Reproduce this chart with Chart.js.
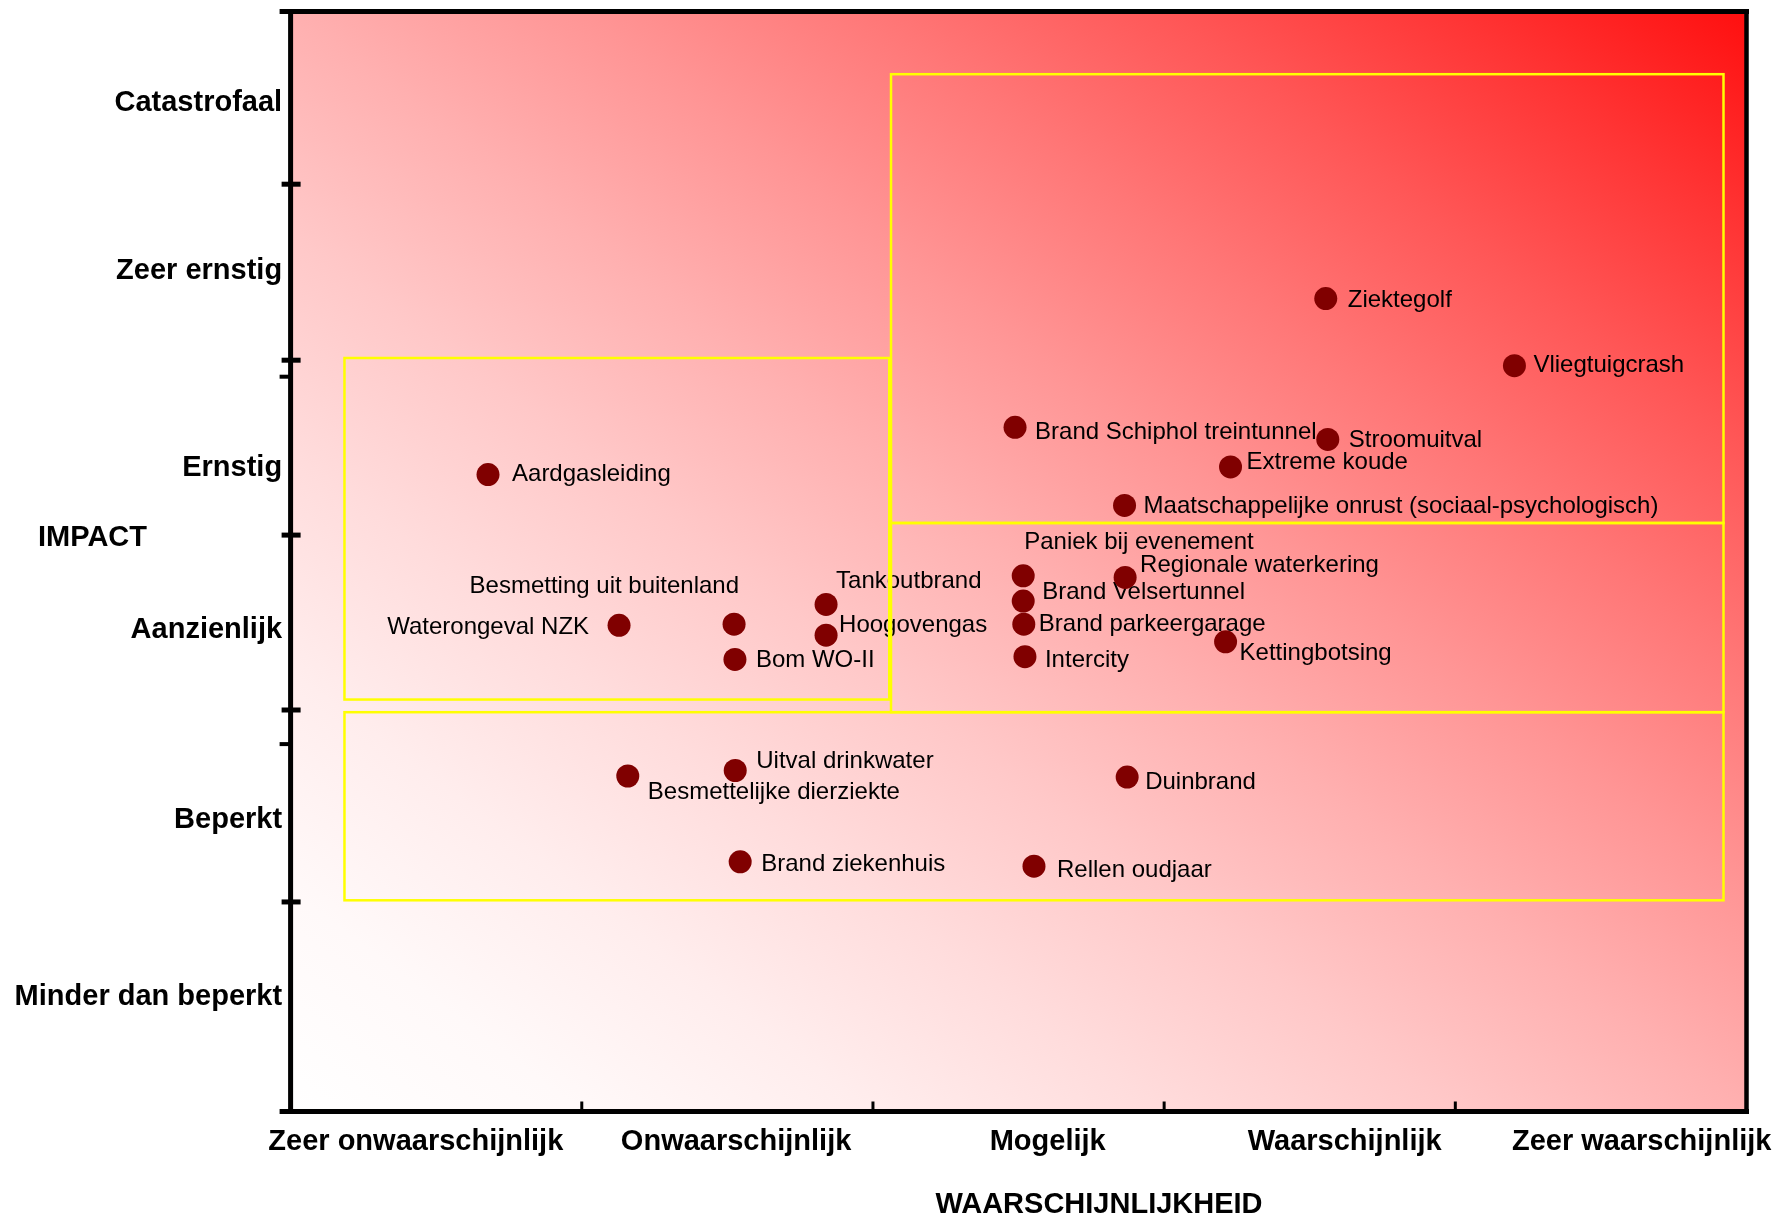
<!DOCTYPE html>
<html>
<head>
<meta charset="utf-8">
<title>Risicodiagram</title>
<script src="https://cdn.jsdelivr.net/npm/chart.js@4.4.1/dist/chart.umd.min.js"></script>
<style>
    body { margin: 0; background: #fff; }
    #wrap { width: 1787px; height: 1219px; position: relative; }
</style>
</head>
<body>
<div id="wrap"><canvas id="chart"></canvas></div>
<script>
// Axis categories
const kansLabels = ['Zeer onwaarschijnlijk', 'Onwaarschijnlijk', 'Mogelijk', 'Waarschijnlijk', 'Zeer waarschijnlijk'];
const kansLabelPos = [0.43, 1.53, 2.60, 3.62, 4.64];
const kansBounds = [1, 2, 3, 4];

const impactLabels = ['Minder dan beperkt', 'Beperkt', 'Aanzienlijk', 'Ernstig', 'Zeer ernstig', 'Catastrofaal'];
const impactLabelPos = [10.4, 26.5, 43.8, 58.5, 76.4, 91.7];
const impactBounds = [19.05, 36.5, 52.4, 68.3, 84.3];
const impactMinor = [33.4, 66.8];

// Scenarios
const scenarios = [
    'Ziektegolf', 'Vliegtuigcrash', 'Brand Schiphol treintunnel', 'Stroomuitval', 'Extreme koude',
    'Maatschappelijke onrust (sociaal-psychologisch)', 'Aardgasleiding', 'Paniek bij evenement',
    'Regionale waterkering', 'Brand Velsertunnel', 'Brand parkeergarage', 'Intercity', 'Kettingbotsing',
    'Tankoutbrand', 'Hoogovengas', 'Besmetting uit buitenland', 'Waterongeval NZK', 'Bom WO-II',
    'Uitval drinkwater', 'Besmettelijke dierziekte', 'Duinbrand', 'Brand ziekenhuis', 'Rellen oudjaar'
];
const kans = [3.555, 4.203, 2.488, 3.562, 3.228, 2.864, 0.678, 2.516, 2.866, 2.516, 2.518, 2.522, 3.211,
    1.839, 1.839, 1.523, 1.128, 1.526, 1.527, 1.158, 2.873, 1.544, 2.553];
const impact = [73.9, 67.8, 62.2, 61.1, 58.6, 55.1, 57.9, 48.7, 48.55, 46.4, 44.3, 41.35, 42.7,
    46.1, 43.3, 44.3, 44.2, 41.1, 31.0, 30.5, 30.4, 22.7, 22.3];

// Yellow zones
const zoneKansFrom = [2.062, 2.062, 0.185, 0.185];
const zoneKansTo = [4.921, 4.921, 2.056, 4.921];
const zoneImpactFrom = [53.5, 36.3, 37.45, 19.2];
const zoneImpactTo = [94.3, 53.5, 68.5, 36.3];

// Label placement next to each point: dx, dy, align
const labelPlace = [
    [22, 2], [19, 0], [20, 5.5], [21, 1], [16, -5],
    [19, 1], [24, 0], [1, -33.5],
    [15, -12], [19, -9], [15, 0], [20, 4], [14, 11.5],
    [10, -23.5], [13, -10], [5, -38, 'right'], [-30, 2.5, 'right'], [21, 1],
    [21, -9], [20, 16], [18, 5], [21, 3], [23, 4]
];

const FONT = '"Liberation Sans", Arial, Helvetica, sans-serif';

const riskPlugin = {
    id: 'risk',
    // gradient background: white bottom-left to red top-right
    beforeDraw(chart) {
        const { ctx, chartArea: a } = chart;
        ctx.save();
        ctx.translate(a.left, a.bottom);
        ctx.scale(a.right - a.left, a.top - a.bottom);
        const g = ctx.createLinearGradient(0, 0, 1, 1);
        for (let i = 0; i <= 10; i++) {
            const s = i / 10;
            const c = Math.round(255 - 240 * Math.pow(s, 1.6));
            g.addColorStop(s, `rgb(255,${c},${c})`);
        }
        ctx.fillStyle = g;
        ctx.fillRect(0, 0, 1, 1);
        ctx.restore();
    },
    // labels first, then the yellow zones, points come on top
    beforeDatasetsDraw(chart) {
        const { ctx } = chart;
        const pts = chart.getDatasetMeta(0).data;
        ctx.save();
        ctx.font = '24px ' + FONT;
        ctx.fillStyle = '#000';
        ctx.textBaseline = 'middle';
        pts.forEach((p, i) => {
            const [dx, dy, align] = labelPlace[i];
            ctx.textAlign = align || 'left';
            ctx.fillText(scenarios[i], p.x + dx, p.y + dy);
        });

        const xs = chart.scales.x, ys = chart.scales.y;
        ctx.strokeStyle = '#ffff00';
        ctx.lineWidth = 2.5;
        zoneKansFrom.forEach((k, i) => {
            const x0 = xs.getPixelForValue(k);
            const x1 = xs.getPixelForValue(zoneKansTo[i]);
            const y0 = ys.getPixelForValue(zoneImpactTo[i]);
            const y1 = ys.getPixelForValue(zoneImpactFrom[i]);
            ctx.strokeRect(x0, y0, x1 - x0, y1 - y0);
        });
        ctx.restore();
    },
    // black frame, tick marks and axis titles
    afterDraw(chart) {
        const { ctx, chartArea: a } = chart;
        const xs = chart.scales.x, ys = chart.scales.y;
        const line = (x0, y0, x1, y1, w) => {
            ctx.lineWidth = w;
            ctx.beginPath();
            ctx.moveTo(x0, y0);
            ctx.lineTo(x1, y1);
            ctx.stroke();
        };
        ctx.save();
        ctx.strokeStyle = '#000';
        line(a.left - 11, a.top, a.right + 2.5, a.top, 5);
        line(a.left - 11, a.bottom, a.right + 2.5, a.bottom, 5);
        line(a.left, a.top - 2.5, a.left, a.bottom + 2.5, 5);
        line(a.right, a.top - 2.5, a.right, a.bottom + 2.5, 4.5);
        impactBounds.forEach(v => {
            const y = ys.getPixelForValue(v);
            line(a.left - 9, y, a.left + 10, y, 5);
        });
        impactMinor.forEach(v => {
            const y = ys.getPixelForValue(v);
            line(a.left - 11, y, a.left, y, 4);
        });
        kansBounds.forEach(v => {
            const x = xs.getPixelForValue(v);
            line(x, a.bottom - 10, x, a.bottom, 3);
        });

        ctx.fillStyle = '#000';
        ctx.font = 'bold 29px ' + FONT;
        ctx.textBaseline = 'middle';
        ctx.textAlign = 'left';
        ctx.fillText('IMPACT', 38, 538);
        ctx.textAlign = 'center';
        ctx.fillText('WAARSCHIJNLIJKHEID', 1099, 1205);
        ctx.restore();
    }
};

const tickFont = { family: FONT, size: 29, weight: 'bold' };

new Chart(document.getElementById('chart'), {
    type: 'scatter',
    data: {
        datasets: [{
            data: scenarios.map((s, i) => ({ x: kans[i], y: impact[i] })),
            backgroundColor: '#800000',
            borderWidth: 0,
            pointRadius: 11.5,
            pointHoverRadius: 11.5
        }]
    },
    options: {
        responsive: true,
        maintainAspectRatio: false,
        animation: false,
        devicePixelRatio: 1,
        layout: { padding: { top: 10, right: 40.5, bottom: 0, left: 0 } },
        plugins: { legend: { display: false }, tooltip: { enabled: false } },
        scales: {
            x: {
                type: 'linear', min: 0, max: 5,
                grid: { display: false, drawTicks: false },
                border: { display: false },
                afterBuildTicks: s => { s.ticks = kansLabelPos.map(v => ({ value: v })); },
                afterFit: s => { s.height = 107.5; s.paddingLeft = 0; s.paddingRight = 0; },
                ticks: {
                    autoSkip: false, maxRotation: 0, minRotation: 0, padding: 13,
                    color: '#000', font: tickFont,
                    callback: (v, i) => kansLabels[i]
                }
            },
            y: {
                type: 'linear', min: 0, max: 100,
                grid: { display: false, drawTicks: false },
                border: { display: false },
                afterBuildTicks: s => { s.ticks = impactLabelPos.map(v => ({ value: v })); },
                afterFit: s => { s.width = 290.6; s.paddingTop = 0; s.paddingBottom = 0; },
                ticks: {
                    autoSkip: false, padding: 8.5,
                    color: '#000', font: tickFont,
                    callback: (v, i) => impactLabels[i]
                }
            }
        }
    },
    plugins: [riskPlugin]
});
</script>
</body>
</html>
